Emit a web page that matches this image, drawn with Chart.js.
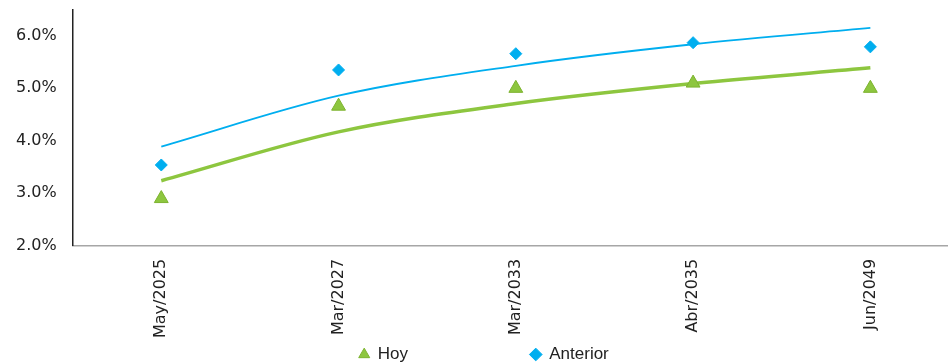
<!DOCTYPE html>
<html>
<head>
<meta charset="utf-8">
<script src="https://cdn.jsdelivr.net/npm/chart.js@4"></script>
<style>
  html, body { margin: 0; padding: 0; background: #fff; overflow: hidden; width: 948px; height: 363px; }
  #wrap { position: relative; top: -16px; width: 968px; height: 389px; }
</style>
</head>
<body>
<div id="wrap"><canvas id="rate-chart"></canvas></div>
<script>
const labels = ['May/2025', 'Mar/2027', 'Mar/2033', 'Abr/2035', 'Jun/2049'];
const hoy = [2.9, 4.66, 5.0, 5.1, 5.0];
const anterior = [3.54, 5.35, 5.66, 5.87, 5.79];
// trend lines (log fit in the original)
const hoyTrend = [3.24, 4.17, 4.71, 5.09, 5.39];
const anteriorTrend = [3.89, 4.86, 5.43, 5.84, 6.15];
const yTicks = [2, 3, 4, 5, 6];

const green = '#8DC63F';
const blue = '#00AEEF';
const font = 'DejaVu Sans';

const ctx = document.getElementById('rate-chart').getContext('2d');
const rateChart = new Chart(ctx, {
    type: 'line',
    data: {
        labels: labels,
        datasets: [{
            label: 'Hoy',
            data: hoy,
            showLine: false,
            pointStyle: 'triangle',
            pointRadius: 8,
            pointBackgroundColor: green,
            pointBorderColor: '#7DB32F',
            pointBorderWidth: 1,
            backgroundColor: green,
            borderColor: green
        }, {
            label: 'Anterior',
            data: anterior,
            showLine: false,
            pointStyle: 'rectRot',
            pointRadius: 6,
            pointBackgroundColor: blue,
            pointBorderColor: blue,
            pointBorderWidth: 1,
            backgroundColor: blue,
            borderColor: blue
        }, {
            label: 'trend hoy',
            data: hoyTrend,
            borderColor: green,
            borderWidth: 3.5,
            pointRadius: 0,
            cubicInterpolationMode: 'monotone'
        }, {
            label: 'trend anterior',
            data: anteriorTrend,
            borderColor: blue,
            borderWidth: 1.8,
            pointRadius: 0,
            cubicInterpolationMode: 'monotone'
        }]
    },
    options: {
        responsive: true,
        maintainAspectRatio: false,
        animation: false,
        layout: { padding: { left: 0, top: 0, right: 0, bottom: 0 } },
        plugins: {
            tooltip: { enabled: false },
            legend: {
                position: 'bottom',
                labels: {
                    usePointStyle: true,
                    boxWidth: 10,
                    boxHeight: 9,
                    padding: 0,
                    color: '#222',
                    font: { family: 'Liberation Sans', size: 17, lineHeight: 1.0 },
                    filter: (item) => item.datasetIndex < 2,
                    generateLabels: (chart) => {
                        const items = Chart.defaults.plugins.legend.labels.generateLabels(chart);
                        items.forEach(it => {
                            if (it.datasetIndex === 0) it.text = it.text + '\u00a0'.repeat(26);
                        });
                        return items;
                    }
                }
            }
        },
        scales: {
            x: {
                offset: true,
                grid: { display: false, drawTicks: false, offset: true },
                border: { color: '#a6a6a6', width: 1.5 },
                afterFit: (scale) => { scale.height -= 5; },
                ticks: {
                    minRotation: 90,
                    maxRotation: 90,
                    padding: 13,
                    color: '#222',
                    font: { family: font, size: 16 }
                }
            },
            y: {
                min: 2,
                max: 6.5,
                grid: { display: false, drawTicks: false },
                border: { color: '#222', width: 1.5 },
                afterBuildTicks: (axis) => {
                    axis.ticks = yTicks.map(v => ({ value: v }));
                },
                ticks: {
                    padding: 16,
                    color: '#222',
                    font: { family: font, size: 16 },
                    callback: (v) => Number(v).toFixed(1) + '%'
                }
            }
        }
    }
});
</script>
</body>
</html>
